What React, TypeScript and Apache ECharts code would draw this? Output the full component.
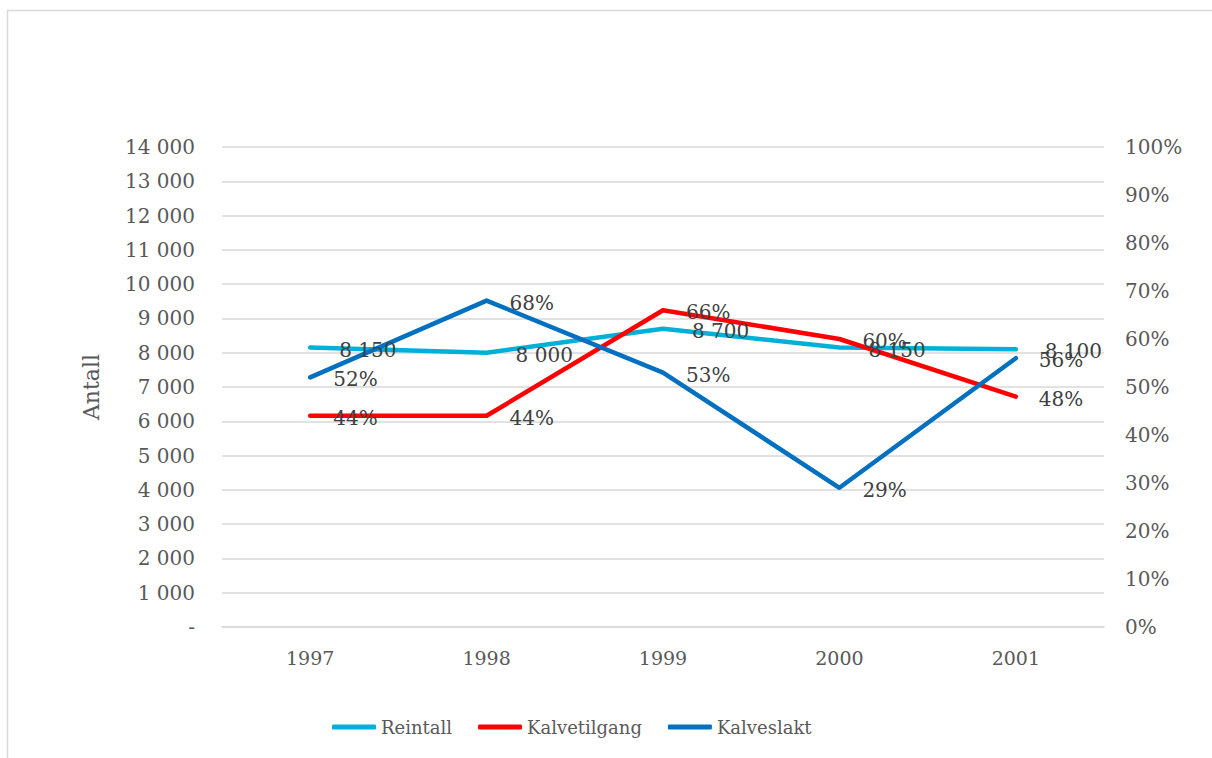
import React, { useEffect, useRef } from "react";
import * as echarts from "echarts";

const years = ["1997", "1998", "1999", "2000", "2001"];
const reintall = [8150, 8000, 8700, 8150, 8100];
const kalvetilgang = [44, 44, 66, 60, 48];
const kalveslakt = [52, 68, 53, 29, 56];

const FONT = "DejaVu Serif";

function fmtThousands(v: number): string {
  if (v === 0) return "-";
  return String(Math.round(v)).replace(/\B(?=(\d{3})+(?!\d))/g, " ");
}

export default function App() {
  const ref = useRef<HTMLDivElement>(null);
  useEffect(() => {
    if (!ref.current) return;
    const chart = echarts.init(ref.current, undefined, { renderer: "svg" });
    const labelStyle = {
      show: true,
      position: "right" as const,
      distance: 22,
      offset: [0, 2],
      color: "#404040",
      fontSize: 20,
      fontFamily: FONT,
    };
    chart.setOption({
      animation: false,
      backgroundColor: "#ffffff",
      textStyle: { fontFamily: FONT },
      graphic: [
        { type: "line", shape: { x1: 7.5, y1: 10, x2: 7.5, y2: 758 }, style: { stroke: "#d9d9d9", lineWidth: 1.5 } },
        { type: "line", shape: { x1: 7, y1: 10.5, x2: 1212, y2: 10.5 }, style: { stroke: "#d9d9d9", lineWidth: 1.5 } },
      ],
      grid: { left: 222, right: 108, top: 147, bottom: 131, containLabel: false },
      legend: {
        bottom: 17,
        left: 327,
        itemWidth: 44,
        itemHeight: 5,
        itemGap: 26,
        icon: "roundRect",
        textStyle: { fontFamily: FONT, fontSize: 18, color: "#595959" },
        data: ["Reintall", "Kalvetilgang", "Kalveslakt"],
      },
      xAxis: {
        type: "category",
        data: years,
        boundaryGap: true,
        axisLine: { show: true, lineStyle: { color: "#d9d9d9", width: 1.5 } },
        axisTick: { show: false },
        axisLabel: { color: "#595959", fontSize: 19, fontFamily: FONT, margin: 21 },
      },
      yAxis: [
        {
          type: "value",
          min: 0,
          max: 14000,
          interval: 1000,
          name: "Antall",
          nameLocation: "middle",
          nameRotate: 90,
          nameGap: 120,
          nameTextStyle: { color: "#595959", fontSize: 22, fontFamily: FONT },
          axisLine: { show: false },
          axisTick: { show: false },
          splitLine: { show: true, lineStyle: { color: "#d9d9d9", width: 1.5 } },
          axisLabel: {
            color: "#595959",
            fontSize: 20,
            fontFamily: FONT,
            margin: 27,
            formatter: (v: number) => fmtThousands(v),
          },
        },
        {
          type: "value",
          min: 0,
          max: 100,
          interval: 10,
          axisLine: { show: false },
          axisTick: { show: false },
          splitLine: { show: false },
          axisLabel: {
            color: "#595959",
            fontSize: 20,
            fontFamily: FONT,
            margin: 21,
            formatter: "{value}%",
          },
        },
      ],
      series: [
        {
          name: "Reintall",
          type: "line",
          yAxisIndex: 0,
          data: reintall,
          color: "#00b0d8",
          symbol: "circle",
          symbolSize: 2,
          lineStyle: { width: 4.5, cap: "round", join: "round" },
          label: { ...labelStyle, distance: 28, formatter: (p: any) => fmtThousands(p.value) },
        },
        {
          name: "Kalvetilgang",
          type: "line",
          yAxisIndex: 1,
          data: kalvetilgang,
          color: "#ff0000",
          symbol: "circle",
          symbolSize: 2,
          lineStyle: { width: 4.5, cap: "round", join: "round" },
          label: { ...labelStyle, formatter: "{c}%" },
        },
        {
          name: "Kalveslakt",
          type: "line",
          yAxisIndex: 1,
          data: kalveslakt,
          color: "#0070c0",
          symbol: "circle",
          symbolSize: 2,
          lineStyle: { width: 4.5, cap: "round", join: "round" },
          label: { ...labelStyle, formatter: "{c}%" },
        },
      ],
    });
    return () => chart.dispose();
  }, []);
  return (
    <div
      ref={ref}
      style={{ position: "fixed", left: 0, top: 0, width: 1212, height: 758 }}
    />
  );
}
